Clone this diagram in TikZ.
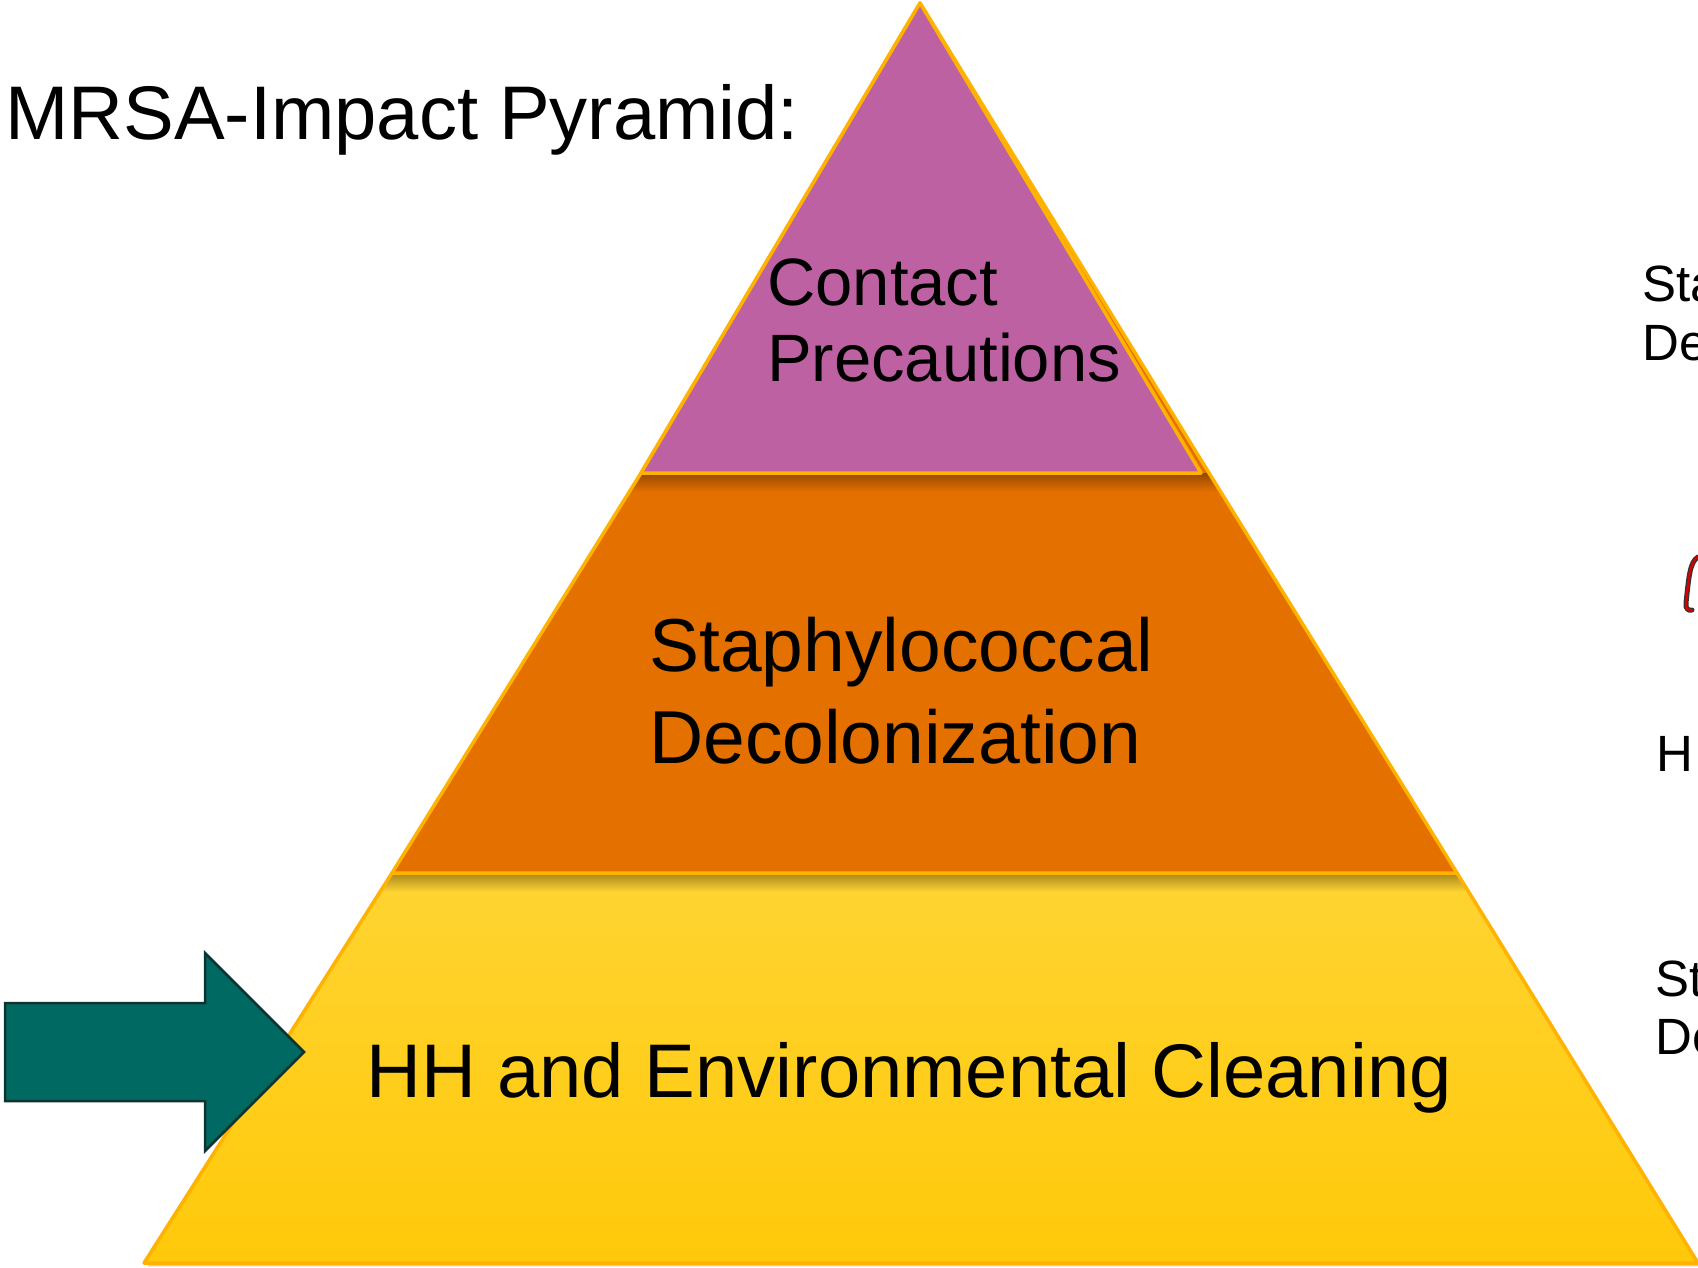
\documentclass[tikz,border=0pt]{standalone}
\usepackage{fontspec}
\setmainfont{Liberation Sans}
\definecolor{tierpurple}{RGB}{190,97,162}
\definecolor{tierorange}{RGB}{228,112,0}
\definecolor{orangeshadow}{RGB}{150,72,0}
\definecolor{yellowtop}{RGB}{255,212,50}
\definecolor{yellowbottom}{RGB}{255,201,10}
\definecolor{yellowshadow}{RGB}{165,134,28}
\definecolor{tierline}{RGB}{255,178,0}
\definecolor{arrowteal}{RGB}{0,106,98}
\definecolor{arrowedge}{RGB}{14,52,50}
\definecolor{inkred}{RGB}{215,0,0}

\begin{document}
\begin{tikzpicture}[x=1pt,y=-1pt,
  tier/.style={draw=tierline, line width=3.5pt, line join=round},
  lbl/.style={anchor=base west, inner sep=0pt, text=black},
  biglbl/.style={lbl, font=\fontsize{76}{76}\selectfont},
  midlbl/.style={lbl, font=\fontsize{75}{75}\selectfont},
  toplbl/.style={lbl, font=\fontsize{67}{67}\selectfont},
  sidelbl/.style={lbl, font=\fontsize{51}{51}\selectfont}]
\useasboundingbox (0,0) rectangle (1698,1267);
\clip (0,0) rectangle (1698,1267);

% corner points of the three tiers
\coordinate (apex) at (920,3);
\coordinate (pl) at (641,473);
\coordinate (pr) at (1201,473);
\coordinate (ur) at (1209,473);
\coordinate (ml) at (392,873);
\coordinate (mr) at (1457,873);
\coordinate (bl) at (144,1263);
\coordinate (br) at (1698,1263);

% soft shadow under the base
\shade[top color=black!35, bottom color=white] (148,1263) rectangle (1698,1267);

% bottom tier
\fill[top color=yellowtop, bottom color=yellowbottom] (ml) -- (mr) -- (br) -- (bl) -- cycle;
\begin{scope}
  \clip (ml) -- (mr) -- (br) -- (bl) -- cycle;
  \shade[top color=yellowshadow, bottom color=yellowtop] (300,873) rectangle (1600,892);
\end{scope}
\draw[tier] (ml) -- (mr) -- (br) -- (bl) -- cycle;

% middle tier (its right edge runs on up behind the top tier)
\fill[tierorange] (apex) -- (ur) -- (mr) -- (ml) -- (pl) -- cycle;
\begin{scope}
  \clip (pl) -- (ur) -- (mr) -- (ml) -- cycle;
  \shade[top color=orangeshadow, bottom color=tierorange] (500,473) rectangle (1300,492);
\end{scope}
\draw[tier] (apex) -- (ur) -- (mr) -- (ml) -- (pl) -- cycle;

% top tier
\draw[tier, fill=tierpurple] (apex) -- (pr) -- (pl) -- cycle;

% title and tier labels
\node[biglbl] (title) at (5,139) {MRSA-Impact Pyramid:};
\node[toplbl] (contact) at (767,305) {Contact};
\node[toplbl] (precautions) at (767,381) {Precautions};
\node[midlbl] (staph) at (649,671) {Staphylococcal};
\node[midlbl] (decol) at (649,763) {Decolonization};
\node[biglbl] (hh) at (366,1097) {HH and Environmental Cleaning};

% pointer arrow at the bottom tier
\draw[fill=arrowteal, draw=arrowedge, line width=2.5pt, line join=miter]
  (5,1003) -- (205,1003) -- (205,953) -- (304,1052) -- (205,1151)
  -- (205,1101) -- (5,1101) -- cycle;

% text running off the right edge
\node[sidelbl] (sideA1) at (1642,301) {Sta};
\node[sidelbl] (sideA2) at (1642,360) {De};
\node[sidelbl] (sideB) at (1656,771) {H};
\node[sidelbl] (sideC1) at (1655,996) {St};
\node[sidelbl] (sideC2) at (1655,1054) {De};

% red pen stroke at the edge
\draw[black!80, line width=5pt, line cap=round]
  (1698,557) .. controls (1690,562) and (1689,575) .. (1686,603)
  .. controls (1685,609) and (1689,611) .. (1692,610);
\draw[inkred, line width=2.4pt, line cap=round]
  (1698,557) .. controls (1690,562) and (1689,575) .. (1686,603)
  .. controls (1685,609) and (1689,611) .. (1692,610);
\end{tikzpicture}
\end{document}
